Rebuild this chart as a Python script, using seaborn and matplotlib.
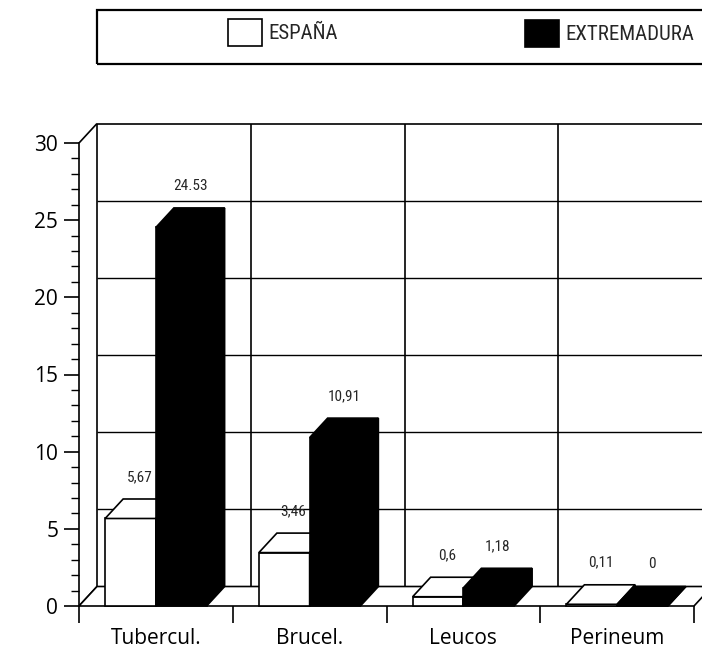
import matplotlib
matplotlib.use("Agg")
import matplotlib.pyplot as plt
from matplotlib import font_manager
from matplotlib.patches import Polygon, Rectangle, Patch
import pandas as pd
import seaborn as sns

# ---- data -------------------------------------------------------------
categories = ["Tubercul.", "Brucel.", "Leucos", "Perineum"]
series = ["ESPAÑA", "EXTREMADURA"]
espana = [5.67, 3.46, 0.6, 0.11]
extremadura = [24.53, 10.91, 1.18, 0]
espana_labels = ["5,67", "3,46", "0,6", "0,11"]
extremadura_labels = ["24.53", "10,91", "1,18", "0"]
y_ticks = [0, 5, 10, 15, 20, 25, 30]

df = pd.DataFrame({
    "category": categories * 2,
    "series": [series[0]] * len(categories) + [series[1]] * len(categories),
    "value": espana + extremadura,
})
value_labels = {series[0]: espana_labels, series[1]: extremadura_labels}

# ---- style ------------------------------------------------------------
sns.set_theme(style="white")
plt.rcParams["font.family"] = ["Open Sans", "DejaVu Sans"]

installed = {f.name for f in font_manager.fontManager.ttflist}
narrow = next((n for n in ["Liberation Sans Narrow", "Roboto Condensed",
                           "Open Sans Condensed", "DejaVu Sans"] if n in installed),
              "DejaVu Sans")

W, H = 702, 648
fig = plt.figure(figsize=(W / 100, H / 100), dpi=100)
fig.patch.set_facecolor("white")
ax = fig.add_axes([79 / W, 42 / H, (694 - 79) / W, (606 - 143) / H])
ax.set_facecolor("none")

palette = {series[0]: "white", series[1]: "black"}
sns.barplot(data=df, x="category", y="value", hue="series", order=categories,
            hue_order=series, palette=palette, width=0.66, dodge=True,
            edgecolor="black", linewidth=1.2, saturation=1, legend=False, ax=ax)

n = len(categories)
ax.set_xlim(-0.5, n - 0.5)
ax.set_ylim(0, 30)

# depth of the 3-D projection, converted to data units
DEPTH_X_PX, DEPTH_Y_PX = 18, 19.5
ddx = DEPTH_X_PX / ((694 - 79) / n)
ddy = DEPTH_Y_PX / ((606 - 143) / 30)

line_kw = dict(color="black", clip_on=False, solid_capstyle="butt")
x0, x1 = -0.5, n - 0.5

# back wall: horizontal grid and category separators
for t in y_ticks[1:]:
    ax.plot([x0 + ddx, x1 + ddx + 0.2], [t + ddy, t + ddy],
            lw=1.0 if t < 30 else 1.2, zorder=1, **line_kw)
for b in range(n + 1):
    xb = b - 0.5 + ddx
    ax.plot([xb, xb], [ddy, 30 + ddy], lw=1.2, zorder=1, **line_kw)

# left wall edges
ax.plot([x0, x0 + ddx], [30, 30 + ddy], lw=1.2, zorder=1, **line_kw)
ax.plot([x0, x0 + ddx], [0, ddy], lw=1.2, zorder=1, **line_kw)

# floor
ax.add_patch(Polygon([(x0, 0), (x1, 0), (x1 + ddx, ddy), (x0 + ddx, ddy)],
                     closed=True, facecolor="white", edgecolor="black",
                     lw=1.2, zorder=2, clip_on=False))

# extrude the bars: top and right side faces
bars = [p for p in ax.patches
        if isinstance(p, Rectangle) and 0 < p.get_width() < 1]
for p in bars:
    x, w, h = p.get_x(), p.get_width(), p.get_height()
    fc = p.get_facecolor()
    z = 4 if fc[0] < 0.5 else 3
    p.set_zorder(z)
    p.set_clip_on(False)
    top = Polygon([(x, h), (x + w, h), (x + w + ddx, h + ddy), (x + ddx, h + ddy)],
                  closed=True, facecolor=fc, edgecolor="black", lw=1.2, zorder=z,
                  clip_on=False)
    side = Polygon([(x + w, 0), (x + w + ddx, ddy), (x + w + ddx, h + ddy), (x + w, h)],
                   closed=True, facecolor=fc, edgecolor="black", lw=1.2, zorder=z,
                   clip_on=False)
    ax.add_patch(top)
    ax.add_patch(side)

# value labels above each bar
for p in bars:
    x, w, h = p.get_x(), p.get_width(), p.get_height()
    dark = p.get_facecolor()[0] < 0.5
    s = series[1] if dark else series[0]
    idx = int(round(x + w / 2 - (w / 2 if dark else -w / 2)))
    idx = min(max(idx, 0), n - 1)
    ax.annotate(value_labels[s][idx], xy=(x + w / 2 + ddx / 2, h), xytext=(0, 30),
                textcoords="offset points", ha="center", va="center",
                fontsize=11, family=[narrow, "DejaVu Sans"], zorder=6,
                annotation_clip=False)

# axes, ticks and labels
for s in ["top", "right", "bottom"]:
    ax.spines[s].set_visible(False)
ax.spines["left"].set_linewidth(1.2)
ax.spines["left"].set_color("black")

ax.set_yticks(y_ticks)
ax.set_yticks(range(0, 31), minor=True)
ax.tick_params(axis="y", which="major", direction="out", length=11, width=1.2,
               color="black", labelsize=15, labelcolor="black", pad=4, left=True)
ax.tick_params(axis="y", which="minor", direction="out", length=6, width=1.0,
               color="black", left=True)

ax.set_xticks(range(n))
ax.set_xticklabels(categories)
ax.set_xticks([b - 0.5 for b in range(n + 1)], minor=True)
ax.tick_params(axis="x", which="major", length=0, labelsize=15,
               labelcolor="black", pad=16)
ax.tick_params(axis="x", which="minor", direction="out", length=12, width=1.2,
               color="black", bottom=True)
ax.set_xlabel("")
ax.set_ylabel("")

# legend box across the top
fig.add_artist(Rectangle((97 / W, 1 - 64 / H), (720 - 97) / W, (64 - 10) / H,
                         transform=fig.transFigure, fill=False, edgecolor="black",
                         lw=1.6, clip_on=False))
fs = 15
fs_px = fs * 100 / 72
for name, (hx, hy) in zip(series, [(228, 19), (525, 20)]):
    fig.legend(handles=[Patch(facecolor=palette[name], edgecolor="black", lw=1.2)],
               labels=[name], loc="upper left",
               bbox_to_anchor=(hx / W, 1 - hy / H), frameon=False,
               borderpad=0, borderaxespad=0, handlelength=34 / fs_px,
               handleheight=33 / fs_px, handletextpad=6 / fs_px,
               prop={"family": [narrow, "DejaVu Sans"], "size": fs})

fig.savefig("out.png", dpi=100)
